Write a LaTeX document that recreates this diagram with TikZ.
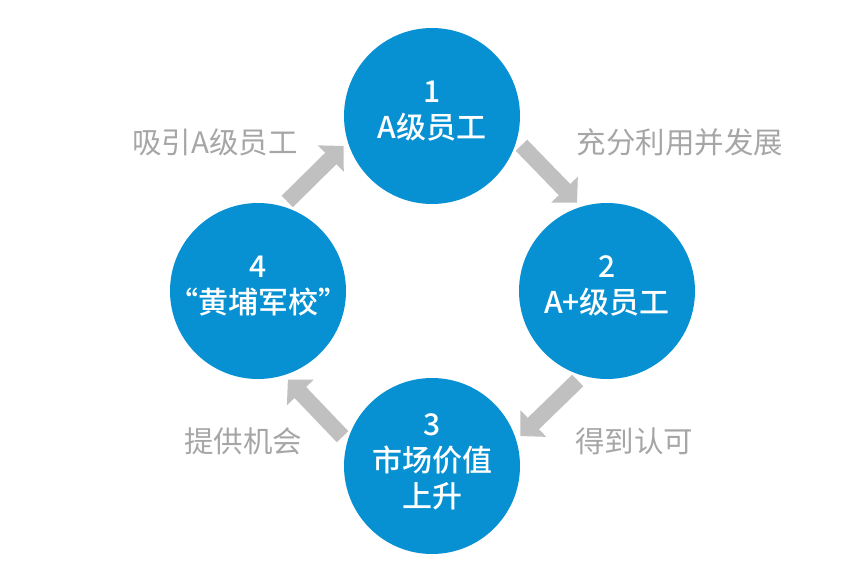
\documentclass[tikz,border=0pt]{standalone}
\usepackage{fontspec}
\setmainfont{Noto Sans CJK SC}
\newfontfamily\stagefont{Noto Sans CJK SC Medium}
\usetikzlibrary{arrows.meta}
\definecolor{stageblue}{RGB}{8,145,210}
\definecolor{flowgray}{RGB}{192,192,192}
\definecolor{notegray}{RGB}{166,166,166}

\begin{document}
\begin{tikzpicture}[x=1pt,y=-1pt,
  stage/.style={circle,fill=stageblue,minimum size=176pt,inner sep=0pt,outer sep=0pt},
  stagetext/.style={text=white,align=center,font=\stagefont\fontsize{30}{36}\selectfont},
  flow/.style={draw=flowgray,line width=16pt,-{Triangle[width=36pt,length=18pt]},
    shorten <=7pt,shorten >=6pt},
  note/.style={text=notegray,font=\fontsize{29.5}{34}\selectfont}]
\useasboundingbox (0,0) rectangle (865,583);
% Four stages
\node[stage] (n1) at (432,116) {};
\node[stage] (n2) at (607,291) {};
\node[stage] (n3) at (432,466) {};
\node[stage] (n4) at (258,291) {};
\node[stagetext] (s1) at ([yshift=5pt]n1) {1\\A级员工};
\node[stagetext] (s2) at ([yshift=5pt]n2) {2\\A+级员工};
\node[stagetext] (s3) at ([yshift=4pt]n3) {3\\市场价值\\上升};
\node[stagetext] (s4) at ([yshift=5pt]n4) {4\\“黄埔军校”};
% Cycle arrows
\draw[flow] (n4.74) -- (n1.197);
\draw[flow] (n1.-16) -- (n2.107);
\draw[flow] (n2.-106) -- (n3.17);
\draw[flow] (n3.164) -- (n4.-73);
\node[note] (t41) at (215,142) {吸引A级员工};
\node[note] (t12) at (680,142) {充分利用并发展};
\node[note] (t23) at (634,441) {得到认可};
\node[note] (t34) at (243,441) {提供机会};
\end{tikzpicture}
\end{document}
